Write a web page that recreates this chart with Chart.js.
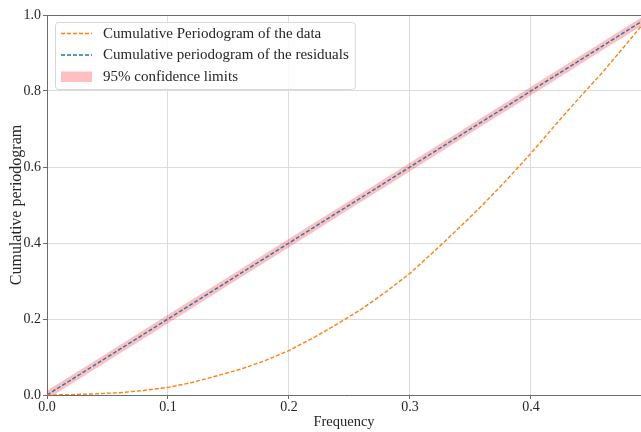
<!DOCTYPE html>
<html>
<head>
<meta charset="utf-8">
<script src="https://cdn.jsdelivr.net/npm/chart.js@4.4.1/dist/chart.umd.min.js"></script>
<style>
  html, body { margin: 0; padding: 0; background: #fff; }
  #wrap { width: 641px; height: 432px; position: relative; }
</style>
</head>
<body>
<div id="wrap"><canvas id="cp"></canvas></div>
<script>
// Frequencies at which the cumulative periodograms are evaluated
const frequency = [0, 0.02, 0.04, 0.06, 0.08, 0.10, 0.12, 0.14, 0.16, 0.18, 0.20, 0.22, 0.24,
  0.26, 0.28, 0.30, 0.32, 0.34, 0.36, 0.38, 0.40, 0.42, 0.44, 0.46, 0.48, 0.491];

// Cumulative periodogram of the raw series
const cumPeriodogramData = [0, 0.001, 0.003, 0.006, 0.012, 0.020, 0.033, 0.050, 0.068, 0.090, 0.117,
  0.150, 0.187, 0.226, 0.271, 0.320, 0.378, 0.438, 0.500, 0.566, 0.636, 0.710, 0.782, 0.852, 0.928, 0.970];

// Cumulative periodogram of the model residuals
const cumPeriodogramResid = [0, 0.040, 0.080, 0.120, 0.160, 0.200, 0.240, 0.280, 0.320, 0.360, 0.400,
  0.440, 0.480, 0.520, 0.560, 0.600, 0.640, 0.680, 0.720, 0.760, 0.800, 0.840, 0.880, 0.920, 0.960, 0.982];

// 95% confidence limits around the white-noise line
const confLower = [-0.011, 0.029, 0.069, 0.109, 0.149, 0.189, 0.229, 0.269, 0.309, 0.349, 0.389,
  0.429, 0.469, 0.509, 0.549, 0.589, 0.629, 0.669, 0.709, 0.749, 0.789, 0.829, 0.869, 0.909, 0.949, 0.971];
const confUpper = [0.011, 0.051, 0.091, 0.131, 0.171, 0.211, 0.251, 0.291, 0.331, 0.371, 0.411,
  0.451, 0.491, 0.531, 0.571, 0.611, 0.651, 0.691, 0.731, 0.771, 0.811, 0.851, 0.891, 0.931, 0.971, 0.993];

// Axis ticks
const xTicks = [0, 0.1, 0.2, 0.3, 0.4];
const yTicks = [0, 0.2, 0.4, 0.6, 0.8, 1.0];

const FONT = 'Liberation Serif';
const ORANGE = '#ff7f0e';
const BLUE = '#1f77b4';
const BAND = 'rgba(255, 0, 0, 0.25)';
const SPINE = '#6b6b6b';
const GRID = '#dcdcdc';
const TEXT = '#262626';

const pts = (ys) => frequency.map((f, i) => ({ x: f, y: ys[i] }));

// Top spine of the axes box
const topSpine = {
  id: 'topSpine',
  afterDraw(chart) {
    const { ctx, chartArea } = chart;
    ctx.save();
    ctx.strokeStyle = SPINE;
    ctx.lineWidth = 1;
    ctx.beginPath();
    ctx.moveTo(chartArea.left, chartArea.top + 0.5);
    ctx.lineTo(chartArea.right, chartArea.top + 0.5);
    ctx.stroke();
    ctx.restore();
  }
};

// Legend drawn inside the upper-left corner of the plot
const insideLegend = {
  id: 'insideLegend',
  afterDraw(chart) {
    const { ctx, chartArea } = chart;
    const entries = [
      { label: chart.data.datasets[0].label, kind: 'line', color: ORANGE },
      { label: chart.data.datasets[1].label, kind: 'line', color: BLUE },
      { label: chart.data.datasets[3].label, kind: 'patch', color: BAND }
    ];
    ctx.save();
    ctx.font = '15px "' + FONT + '"';
    const x0 = chartArea.left + 8, y0 = chartArea.top + 7;
    const textX = x0 + 48;
    let maxW = 0;
    entries.forEach(e => { maxW = Math.max(maxW, ctx.measureText(e.label).width); });
    const w = textX - x0 + maxW + 6, h = 67;
    ctx.beginPath();
    ctx.roundRect(x0 + 0.5, y0 + 0.5, w, h, 3);
    ctx.fillStyle = 'rgba(255,255,255,0.85)';
    ctx.fill();
    ctx.strokeStyle = '#d6d6d6';
    ctx.lineWidth = 1;
    ctx.stroke();
    const rows = [y0 + 11.5, y0 + 33, y0 + 54.5];
    entries.forEach((e, i) => {
      const cy = rows[i];
      if (e.kind === 'line') {
        ctx.strokeStyle = e.color;
        ctx.lineWidth = 1.4;
        ctx.setLineDash([4, 2]);
        ctx.beginPath();
        ctx.moveTo(x0 + 6, cy);
        ctx.lineTo(x0 + 37, cy);
        ctx.stroke();
        ctx.setLineDash([]);
      } else {
        ctx.fillStyle = e.color;
        ctx.fillRect(x0 + 6, cy - 5, 31, 10.5);
      }
      ctx.fillStyle = TEXT;
      ctx.textBaseline = 'middle';
      ctx.textAlign = 'left';
      ctx.fillText(e.label, textX, cy + 0.5);
    });
    ctx.restore();
  }
};

new Chart(document.getElementById('cp'), {
  type: 'line',
  data: {
    datasets: [
      {
        label: 'Cumulative Periodogram of the data',
        data: pts(cumPeriodogramData),
        borderColor: ORANGE, borderWidth: 1.4, borderDash: [4, 2],
        pointRadius: 0, fill: false, tension: 0
      },
      {
        label: 'Cumulative periodogram of the residuals',
        data: pts(cumPeriodogramResid),
        borderColor: BLUE, borderWidth: 1.4, borderDash: [4, 2],
        pointRadius: 0, fill: false, tension: 0
      },
      {
        label: 'lower limit',
        data: pts(confLower),
        borderWidth: 0, borderColor: 'rgba(0,0,0,0)',
        pointRadius: 0, fill: false
      },
      {
        label: '95% confidence limits',
        data: pts(confUpper),
        borderWidth: 0, borderColor: 'rgba(0,0,0,0)',
        backgroundColor: BAND,
        pointRadius: 0, fill: '-1'
      }
    ]
  },
  options: {
    responsive: true,
    maintainAspectRatio: false,
    animation: false,
    layout: { padding: { top: 15, right: 0, left: 0, bottom: 0 } },
    plugins: {
      legend: { display: false },
      tooltip: { enabled: false },
      filler: { drawTime: 'beforeDatasetsDraw' }
    },
    scales: {
      x: {
        type: 'linear',
        min: 0, max: 0.491,
        afterBuildTicks(axis) { axis.ticks = xTicks.map(v => ({ value: v })); },
        afterFit(axis) { axis.height = 37; },
        border: { color: SPINE, width: 1 },
        grid: { color: GRID, lineWidth: 1, drawTicks: true, tickLength: 4, tickColor: SPINE },
        ticks: {
          color: TEXT, padding: 0, maxRotation: 0, autoSkip: false,
          font: { family: FONT, size: 14 },
          callback: v => v.toFixed(1)
        },
        title: {
          display: true, text: 'Frequency', color: TEXT,
          font: { family: FONT, size: 14.5 }, padding: { top: 0, bottom: 1 }
        }
      },
      y: {
        type: 'linear',
        min: 0, max: 1,
        afterBuildTicks(axis) { axis.ticks = yTicks.map(v => ({ value: v })); },
        afterFit(axis) { axis.width = 47; },
        border: { color: SPINE, width: 1 },
        grid: { color: GRID, lineWidth: 1, drawTicks: true, tickLength: 4, tickColor: SPINE },
        ticks: {
          color: TEXT, padding: 2, autoSkip: false,
          font: { family: FONT, size: 14 },
          callback: v => v.toFixed(1)
        },
        title: {
          display: true, text: 'Cumulative periodogram', color: TEXT,
          font: { family: FONT, size: 16 }, padding: { top: 7, bottom: 0 }
        }
      }
    }
  },
  plugins: [topSpine, insideLegend]
});
</script>
</body>
</html>
